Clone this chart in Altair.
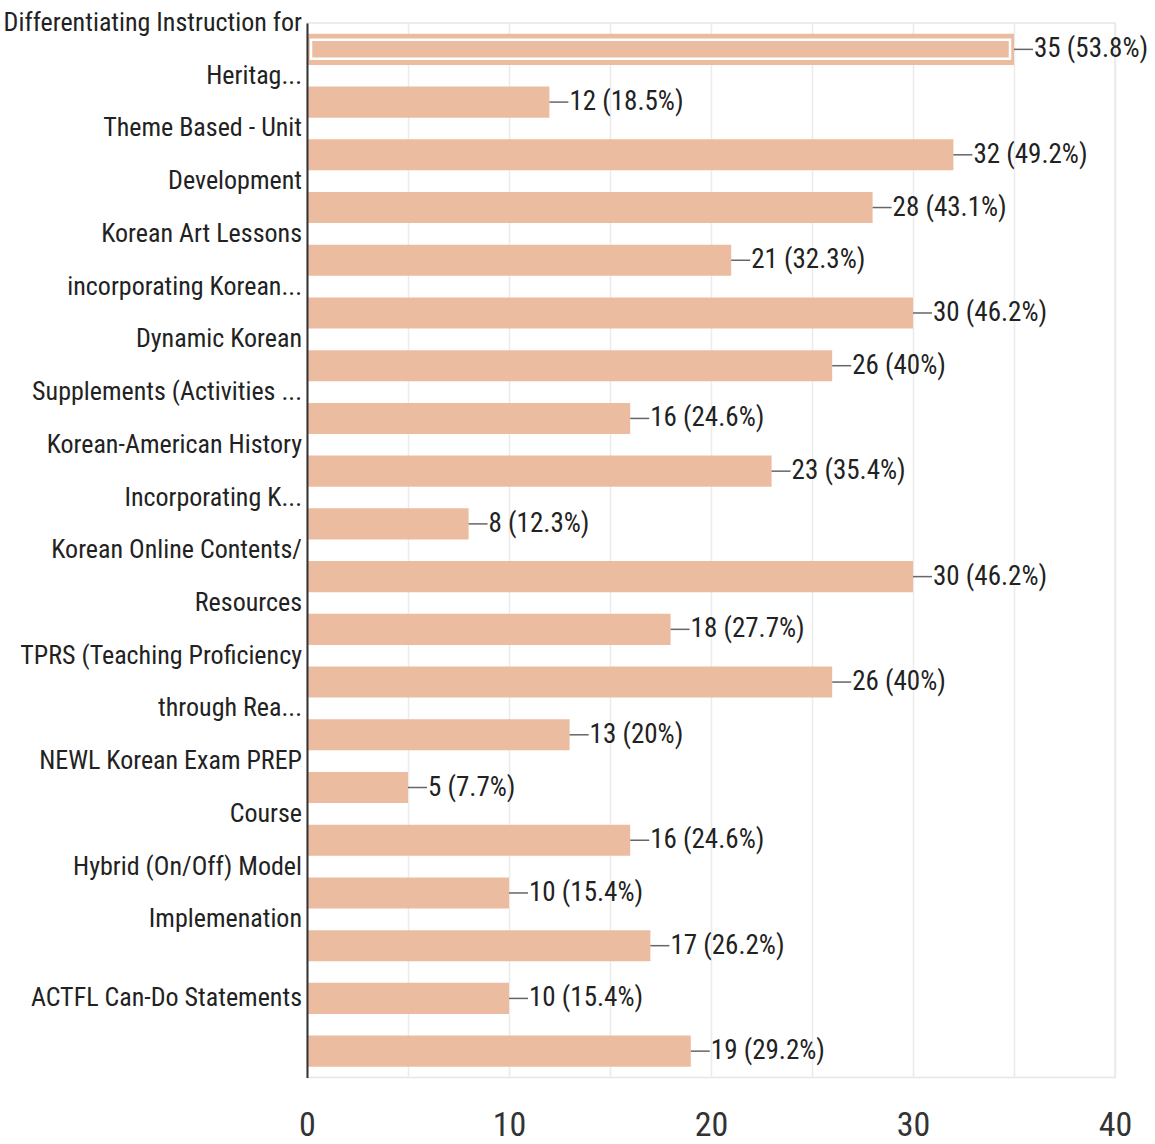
import altair as alt
import pandas as pd

counts = [35, 12, 32, 28, 21, 30, 26, 16, 23, 8, 30, 18, 26, 13, 5, 16, 10, 17, 10, 19]
percents = ["53.8%", "18.5%", "49.2%", "43.1%", "32.3%", "46.2%", "40%", "24.6%", "35.4%", "12.3%",
            "46.2%", "27.7%", "40%", "20%", "7.7%", "24.6%", "15.4%", "26.2%", "15.4%", "29.2%"]
categories = [
    "Differentiating Instruction for\nHeritag...", "",
    "Theme Based - Unit\nDevelopment", "",
    "Korean Art Lessons\nincorporating Korean...", "",
    "Dynamic Korean\nSupplements (Activities ...", "",
    "Korean-American History\nIncorporating K...", "",
    "Korean Online Contents/\nResources", "",
    "TPRS (Teaching Proficiency\nthrough Rea...", "",
    "NEWL Korean Exam PREP\nCourse", "",
    "Hybrid (On/Off) Model\nImplemenation", "",
    "ACTFL Can-Do Statements", "",
]
x_ticks = [0, 5, 10, 15, 20, 25, 30, 35, 40]

df = pd.DataFrame({
    "idx": list(range(len(counts))),
    "count": counts,
    "label": [f"{c} ({p})" for c, p in zip(counts, percents)],
    "category": categories,
    "lines": [c.count("\n") + 1 if c else 0 for c in categories],
    "selected": [i == 0 for i in range(len(counts))],
})

FONT = "Roboto Condensed, DejaVu Sans Condensed, Liberation Sans, sans-serif"
BAR = "#EBBCA0"
STEP = 52.7
CAT_SIZE = 26

y_enc = alt.Y("idx:O", sort="ascending",
              scale=alt.Scale(paddingInner=0.41, paddingOuter=0.205),
              axis=alt.Axis(labels=False, ticks=False, title=None, grid=False,
                            domainColor="#333333", domainWidth=2, zindex=1))
x_enc = alt.X("count:Q", scale=alt.Scale(domain=[0, 40], nice=False),
              axis=alt.Axis(values=x_ticks, title=None, domain=False, ticks=False,
                            labelExpr="datum.value % 10 === 0 ? datum.label : ''",
                            labelFlush=False,
                            labelFont=FONT, labelFontSize=34, labelColor="#333333",
                            labelPadding=31, gridColor="#ebebeb", gridWidth=1.5))
y_plain = alt.Y("idx:O", sort="ascending")

base = alt.Chart(df)

bars = base.mark_bar(color=BAR).encode(x=x_enc, y=y_enc)

highlight = base.transform_filter("datum.selected").mark_bar(
    fill="transparent", stroke="white", strokeWidth=2.5, size=19, xOffset=-4, x2Offset=4
).encode(x="count:Q", x2=alt.datum(0), y=y_plain)

leaders = base.mark_rule(color="#666666", strokeWidth=1.5, x2Offset=19).encode(
    x="count:Q", x2="count:Q", y=y_plain)

values = base.mark_text(align="left", baseline="middle", dx=20, font=FONT,
                        fontSize=27, color="#222222").encode(
    x="count:Q", y=y_plain, text="label:N")

cats2 = base.transform_filter("datum.lines == 2").mark_text(
    align="right", baseline="middle", font=FONT, fontSize=CAT_SIZE, color="#222222",
    lineBreak="\n", lineHeight=STEP, dy=-STEP / 2).encode(
    x=alt.value(-5), y=y_plain, text="category:N")

cats1 = base.transform_filter("datum.lines == 1").mark_text(
    align="right", baseline="middle", font=FONT, fontSize=CAT_SIZE, color="#222222").encode(
    x=alt.value(-5), y=y_plain, text="category:N")

chart = alt.layer(bars, highlight, leaders, values, cats2, cats1).properties(
    width=808, height=1054.5,
    autosize=alt.AutoSizeParams(type="none"),
    padding={"left": 307, "top": 23, "right": 40, "bottom": 66.5},
    background="white",
).configure_view(stroke="#e6e6e6", strokeWidth=1.5)

chart.save("out.html", embed_options={"renderer": "svg", "actions": False})
